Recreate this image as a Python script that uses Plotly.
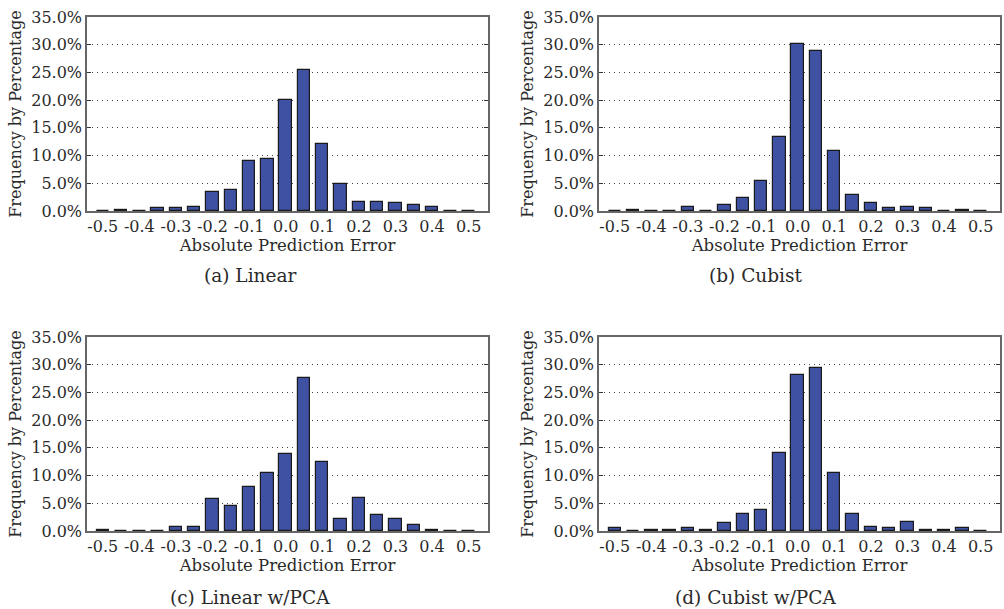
import plotly.graph_objects as go

bins = [-0.5, -0.45, -0.4, -0.35, -0.3, -0.25, -0.2, -0.15, -0.1, -0.05, 0.0,
        0.05, 0.1, 0.15, 0.2, 0.25, 0.3, 0.35, 0.4, 0.45, 0.5]

linear = [0, 0.2, 0, 0.6, 0.6, 0.8, 3.4, 3.7, 9.1, 9.4, 20.0,
          25.4, 12.0, 4.8, 1.7, 1.7, 1.4, 1.1, 0.8, 0, 0]
cubist = [0, 0.2, 0, 0, 0.8, 0, 1.1, 2.3, 5.4, 13.4, 30.2,
          28.8, 10.8, 2.8, 1.4, 0.6, 0.8, 0.6, 0, 0.2, 0]
linear_pca = [0.2, 0, 0, 0, 0.8, 0.8, 5.7, 4.5, 7.9, 10.5, 13.9,
              27.6, 12.5, 2.2, 5.9, 2.8, 2.2, 1.1, 0.2, 0, 0]
cubist_pca = [0.6, 0, 0.2, 0.2, 0.5, 0.2, 1.4, 3.1, 3.7, 14.0, 28.2,
              29.4, 10.5, 3.1, 0.8, 0.5, 1.7, 0.2, 0.2, 0.5, 0]

captions = ["(a) Linear", "(b) Cubist", "(c) Linear w/PCA", "(d) Cubist w/PCA"]
series = [linear, cubist, linear_pca, cubist_pca]
x_ticks = [-0.5, -0.4, -0.3, -0.2, -0.1, 0.0, 0.1, 0.2, 0.3, 0.4, 0.5]
y_ticks = [0, 5, 10, 15, 20, 25, 30, 35]

W, H = 1004, 609
# pixel boxes: (left, right, top, bottom)
boxes = [(87, 488, 17, 211), (599, 1000, 17, 211),
         (87, 488, 337, 531), (599, 1000, 337, 531)]
caption_pos = [(250, 275), (755, 275), (250, 597), (755, 597)]

FONT = "DejaVu Serif"
TXT = "#2a2a2a"
fig = go.Figure()
for i, (vals, box) in enumerate(zip(series, boxes)):
    n = "" if i == 0 else str(i + 1)
    fig.add_trace(go.Bar(
        x=bins, y=vals, width=0.034,
        marker=dict(color="#3f51a3", line=dict(color="#1a1a1a", width=1.2)),
        xaxis="x" + n, yaxis="y" + n, showlegend=False))
    l, r, t, b = box
    fig.update_layout(**{
        "xaxis" + n: dict(
            domain=[l / W, r / W], range=[-0.543, 0.553], anchor="y" + n,
            automargin=False,
            tickvals=x_ticks, ticktext=["%.1f" % v for v in x_ticks],
            showgrid=False, zeroline=False, showline=True, mirror=True,
            linecolor="#666666", linewidth=1.5, ticks="",
            tickfont=dict(family=FONT, size=16, color=TXT),
            title=dict(text="Absolute Prediction Error", standoff=0,
                       font=dict(family=FONT, size=16.5, color=TXT))),
        "yaxis" + n: dict(
            domain=[1 - b / H, 1 - t / H], range=[0, 35], anchor="x" + n,
            automargin=False,
            tickvals=y_ticks, ticktext=["%.1f%%" % v for v in y_ticks],
            showgrid=True, gridcolor="#444444", griddash="1px,4px", gridwidth=1,
            zeroline=False, showline=True, mirror="allticks",
            linecolor="#666666", linewidth=1.5, ticks="inside", ticklen=4,
            tickcolor="#333", tickfont=dict(family=FONT, size=16, color=TXT),
            title=dict(text="Frequency by Percentage", standoff=6,
                       font=dict(family=FONT, size=16, color=TXT))),
    })
    cx, cy = caption_pos[i]
    fig.add_annotation(x=cx / W, y=1 - cy / H, xref="paper", yref="paper",
                       xanchor="center", yanchor="middle",
                       text=captions[i], showarrow=False,
                       font=dict(family=FONT, size=18.5, color=TXT))

fig.update_layout(width=W, height=H, margin=dict(l=0, r=0, t=0, b=0),
                  plot_bgcolor="white", paper_bgcolor="white", bargap=0)
fig.write_html("out.html", config={"displayModeBar": False},
               post_script="document.body.style.margin='0';"
                           "document.body.style.overflow='hidden';")
